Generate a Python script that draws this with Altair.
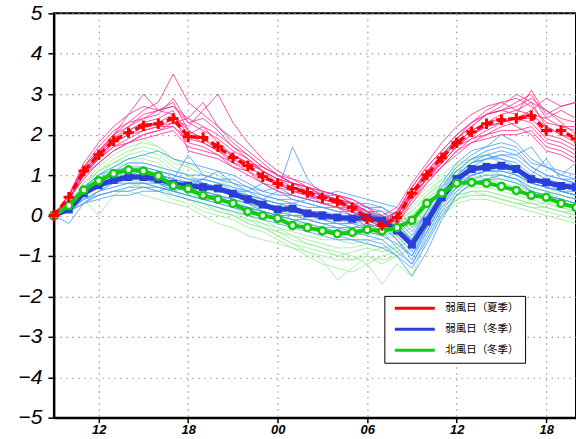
import altair as alt
import pandas as pd

# hours since 09:00 (0 .. 35 -> 09h day1 .. 20h day2)
hours = list(range(36))
x_tick_values = [3, 9, 15, 21, 27, 33]
x_tick_labels = ["12", "18", "00", "06", "12", "18"]
y_tick_values = [-5, -4, -3, -2, -1, 0, 1, 2, 3, 4, 5]

legend_labels = ["弱風日（夏季）", "弱風日（冬季）", "北風日（冬季）"]

# mean curves
red_mean = [0, 0.45, 1.1, 1.5, 1.85, 2.05, 2.22, 2.27, 2.4, 1.95, 1.93, 1.7, 1.43, 1.23, 0.96, 0.79, 0.67, 0.57,
            0.44, 0.35, 0.2, -0.08, -0.25, -0.05, 0.55, 1.0, 1.43, 1.8, 2.07, 2.27, 2.37, 2.4, 2.47, 2.1, 2.1, 1.9]
blue_mean = [0, 0.15, 0.55, 0.75, 0.88, 0.95, 0.95, 0.9, 0.78, 0.74, 0.7, 0.67, 0.54, 0.4, 0.27, 0.15, 0.17, 0.05,
             0.0, -0.05, -0.08, -0.05, -0.12, -0.37, -0.72, -0.15, 0.45, 0.9, 1.15, 1.2, 1.23, 1.15, 0.9, 0.82, 0.73, 0.7]
green_mean = [0, 0.25, 0.63, 0.86, 1.04, 1.13, 1.1, 0.98, 0.74, 0.66, 0.5, 0.4, 0.3, 0.1, 0, -0.07, -0.25, -0.3,
              -0.38, -0.45, -0.42, -0.35, -0.38, -0.3, -0.12, 0.3, 0.55, 0.8, 0.82, 0.8, 0.72, 0.62, 0.5, 0.45, 0.3, 0.2]

# individual days: weak wind, summer
pink_1 = [0, 0.5, 1.2, 1.6, 2.0, 2.3, 2.6, 2.8, 3.5, 2.8, 2.5, 2.2, 1.8, 1.5, 1.2, 1.0, 0.8, 0.7, 0.6, 0.5, 0.3, 0.1, -0.1, 0.1, 0.7, 1.2, 1.6, 2.0, 2.3, 2.5, 2.6, 2.7, 2.9, 2.6, 2.4, 2.3]
pink_2 = [0, 0.4, 1.0, 1.5, 2.0, 2.5, 3.0, 2.6, 2.7, 2.3, 2.4, 2.1, 1.7, 1.4, 1.1, 0.9, 0.8, 0.7, 0.5, 0.4, 0.3, 0.0, -0.3, 0.0, 0.6, 1.1, 1.5, 1.9, 2.2, 2.5, 2.7, 3.0, 2.8, 2.6, 2.3, 2.0]
pink_3 = [0, 0.5, 1.1, 1.4, 1.7, 1.9, 2.1, 2.2, 2.4, 2.2, 2.6, 3.0, 2.3, 1.8, 1.4, 1.1, 0.9, 0.7, 0.5, 0.4, 0.2, 0.0, -0.2, 0.1, 0.5, 0.9, 1.3, 1.7, 2.0, 2.2, 2.3, 2.4, 2.6, 2.9, 2.7, 2.8]
pink_4 = [0, 0.4, 1.0, 1.4, 1.7, 1.8, 1.9, 2.0, 2.1, 1.7, 1.6, 1.5, 1.2, 1.0, 0.8, 0.6, 0.5, 0.4, 0.3, 0.2, 0.1, -0.2, -0.4, -0.1, 0.5, 0.9, 1.3, 1.7, 1.9, 2.0, 2.1, 2.1, 2.2, 1.8, 1.7, 1.5]
pink_5 = [0, 0.5, 1.2, 1.7, 2.1, 2.3, 2.4, 2.5, 2.9, 2.3, 2.1, 1.9, 1.6, 1.4, 1.1, 0.8, 0.6, 0.5, 0.3, 0.2, 0.0, -0.3, -0.5, -0.2, 0.4, 0.8, 1.2, 1.6, 1.9, 2.1, 2.3, 2.4, 2.3, 1.9, 1.8, 1.6]
pink_6 = [0, 0.4, 1.1, 1.5, 1.8, 2.0, 2.1, 2.2, 2.2, 1.8, 1.7, 1.5, 1.3, 1.1, 0.9, 0.8, 0.6, 0.5, 0.4, 0.3, 0.2, 0.0, -0.2, 0.0, 0.6, 1.0, 1.5, 1.9, 2.2, 2.5, 2.6, 2.5, 3.1, 2.5, 2.7, 2.8]
pink_7 = [0, 0.5, 1.1, 1.5, 1.9, 2.1, 2.3, 2.4, 2.6, 1.6, 1.5, 1.4, 1.2, 1.1, 0.8, 0.7, 0.6, 0.6, 0.5, 0.4, 0.3, 0.0, -0.2, 0.1, 0.6, 1.1, 1.5, 1.8, 2.1, 2.3, 2.4, 2.2, 2.0, 1.6, 1.5, 1.3]
pink_8 = [0, 0.4, 1.0, 1.4, 1.8, 2.0, 2.2, 2.3, 2.5, 2.0, 2.2, 1.8, 1.5, 1.3, 1.1, 0.9, 0.8, 0.7, 0.5, 0.4, 0.3, 0.1, -0.1, -0.1, 0.4, 0.9, 1.4, 1.8, 2.1, 2.3, 2.5, 2.6, 2.8, 2.2, 2.0, 1.8]
pink_9 = [0, 0.5, 1.3, 1.8, 2.2, 2.5, 2.7, 2.6, 2.5, 2.1, 1.9, 1.6, 1.5, 1.3, 1.2, 1.0, 0.9, 0.8, 0.6, 0.5, 0.4, 0.2, 0.0, 0.2, 0.8, 1.3, 1.8, 2.2, 2.5, 2.7, 2.8, 2.6, 2.5, 2.2, 2.0, 1.9]
pink_10 = [0, 0.4, 1.0, 1.3, 1.6, 1.8, 2.0, 2.1, 2.3, 2.4, 2.8, 2.2, 1.9, 1.6, 1.3, 1.0, 0.8, 0.6, 0.4, 0.3, 0.1, -0.1, -0.3, 0.0, 0.5, 0.9, 1.2, 1.5, 1.8, 2.0, 2.2, 2.3, 2.5, 2.4, 2.6, 2.4]
pink_11 = [0, 0.5, 1.1, 1.6, 2.0, 2.2, 2.4, 2.6, 2.8, 2.1, 1.9, 1.7, 1.5, 1.3, 1.1, 0.9, 0.7, 0.6, 0.5, 0.5, 0.4, 0.2, -0.1, 0.0, 0.6, 1.0, 1.4, 1.9, 2.3, 2.6, 2.8, 2.9, 2.7, 2.3, 2.2, 2.1]
pink_12 = [0, 0.4, 0.9, 1.3, 1.6, 1.8, 2.0, 2.1, 2.2, 1.9, 1.8, 1.6, 1.3, 1.2, 1.0, 0.8, 0.7, 0.5, 0.4, 0.3, 0.2, -0.1, -0.3, -0.2, 0.3, 0.8, 1.2, 1.6, 1.8, 1.9, 2.0, 2.0, 2.1, 1.7, 1.6, 1.4]
pink_13 = [0, 0.5, 1.2, 1.6, 1.9, 2.2, 2.5, 2.6, 2.7, 2.4, 2.2, 2.0, 1.7, 1.5, 1.2, 1.0, 0.8, 0.7, 0.6, 0.5, 0.3, 0.1, -0.1, 0.1, 0.7, 1.2, 1.6, 2.0, 2.3, 2.5, 2.6, 2.8, 3.0, 2.4, 2.2, 2.2]
pink_14 = [0, 0.4, 1.0, 1.5, 1.8, 2.1, 2.3, 2.2, 2.3, 2.0, 1.8, 1.6, 1.4, 1.2, 1.0, 0.8, 0.6, 0.5, 0.4, 0.3, 0.2, 0.0, -0.2, -0.1, 0.5, 1.0, 1.3, 1.7, 2.0, 2.2, 2.3, 2.4, 2.4, 2.0, 1.9, 1.7]

# individual days: weak wind, winter
blue_1 = [0, -0.2, 0.3, 0.6, 0.8, 0.9, 1.0, 1.0, 0.9, 0.8, 0.7, 0.6, 0.5, 0.4, 0.3, 0.2, 0.1, 0.0, -0.1, -0.2, -0.2, -0.3, -0.4, -0.8, -1.2, -0.5, 0.2, 0.7, 1.0, 1.1, 1.2, 1.1, 0.9, 0.8, 0.7, 0.6]
blue_2 = [0, 0.3, 0.7, 1.0, 1.2, 1.4, 1.5, 1.6, 1.4, 1.3, 1.2, 1.1, 1.0, 0.8, 0.6, 0.5, 0.5, 0.4, 0.3, 0.3, 0.3, 0.3, 0.2, 0.0, -0.4, 0.1, 0.8, 1.3, 1.6, 1.7, 1.8, 1.7, 1.3, 1.2, 1.1, 1.0]
blue_3 = [0, 0.1, 0.4, 0.5, 0.6, 0.7, 0.7, 0.6, 0.5, 0.4, 0.3, 0.2, 0.1, 0.0, -0.1, -0.2, -0.3, -0.4, -0.5, -0.6, -0.6, -0.7, -0.8, -1.0, -1.5, -0.9, -0.1, 0.5, 0.8, 0.9, 1.0, 0.9, 0.6, 0.5, 0.4, 0.3]
blue_4 = [0, 0.2, 0.6, 0.8, 0.9, 1.0, 1.1, 1.0, 0.9, 1.5, 1.0, 0.9, 0.8, 0.7, 0.5, 0.4, 0.3, 0.2, 0.2, 0.1, 0.0, 0.1, 0.0, -0.3, -0.6, 0.0, 0.6, 1.1, 1.4, 1.5, 1.4, 1.3, 1.0, 1.4, 0.9, 0.9]
blue_5 = [0, 0.2, 0.5, 0.7, 0.8, 0.9, 0.9, 0.8, 0.6, 0.7, 0.9, 0.8, 0.6, 0.5, 0.4, 0.6, 1.7, 0.9, 0.5, 0.4, 0.3, 0.2, 0.1, -0.2, -0.6, -0.1, 0.5, 1.0, 1.3, 1.4, 1.4, 1.2, 0.9, 0.8, 0.7, 0.7]
blue_6 = [0, 0.1, 0.5, 0.7, 0.8, 0.8, 0.8, 0.7, 0.6, 0.5, 0.4, 0.4, 0.3, 0.2, 0.0, -0.1, -0.2, -0.3, -0.3, -0.4, -0.5, -0.4, -0.5, -0.7, -1.0, -0.4, 0.3, 0.8, 1.1, 1.2, 1.3, 1.2, 0.9, 0.8, 0.6, 0.6]
blue_7 = [0, 0.2, 0.7, 0.9, 1.1, 1.2, 1.2, 1.1, 1.0, 0.9, 0.9, 0.8, 0.7, 0.6, 0.5, 0.4, 0.4, 0.3, 0.2, 0.2, 0.1, 0.2, 0.2, -0.1, -0.5, 0.1, 0.7, 1.2, 1.5, 1.7, 2.0, 1.8, 1.4, 1.2, 1.0, 1.3]
blue_8 = [0, 0.1, 0.3, 0.4, 0.5, 0.5, 0.6, 0.6, 0.7, 0.8, 0.6, 0.5, 0.3, 0.2, 0.1, 0.0, -0.1, -0.2, -0.3, -0.3, -0.4, -0.5, -0.6, -0.9, -1.2, -0.6, 0.1, 0.6, 0.9, 1.0, 1.0, 0.9, 0.7, 0.6, 0.5, 0.4]
blue_9 = [0, 0.2, 0.6, 0.9, 1.0, 1.1, 1.1, 1.0, 0.9, 0.8, 0.9, 1.1, 0.8, 0.6, 0.4, 0.3, 0.3, 0.4, 0.5, 0.6, 0.5, 0.4, 0.3, 0.2, -0.3, 0.0, 0.5, 0.9, 1.2, 1.4, 1.5, 1.5, 1.7, 1.2, 1.0, 0.9]
blue_10 = [0, 0.1, 0.5, 0.7, 0.9, 1.0, 1.0, 0.9, 0.8, 0.7, 0.6, 0.5, 0.4, 0.3, 0.1, 0.0, 0.0, -0.1, -0.2, -0.2, -0.3, -0.3, -0.2, -0.6, -1.0, -0.3, 0.4, 0.8, 1.0, 1.1, 1.1, 1.0, 0.8, 0.7, 0.6, 0.5]
blue_11 = [0, 0.2, 0.6, 0.8, 1.0, 1.1, 1.2, 1.1, 1.0, 0.9, 0.8, 0.7, 0.6, 0.5, 0.4, 0.3, 0.2, 0.1, 0.1, 0.0, 0.0, 0.0, -0.1, -0.4, -0.8, -0.2, 0.5, 1.0, 1.3, 1.4, 1.5, 1.4, 1.1, 0.9, 0.8, 0.8]
blue_12 = [0, 0.1, 0.4, 0.6, 0.7, 0.8, 0.8, 0.8, 0.7, 0.6, 0.5, 0.5, 0.4, 0.3, 0.2, 0.1, 0.0, 0.0, -0.1, -0.1, -0.2, -0.1, -0.2, -0.5, -0.9, -0.3, 0.4, 0.9, 1.2, 1.2, 1.2, 1.1, 0.8, 0.7, 0.6, 0.5]
blue_13 = [0, 0.3, 0.7, 1.0, 1.1, 1.3, 1.3, 1.2, 1.1, 1.0, 1.0, 0.9, 0.9, 0.7, 0.6, 0.7, 0.5, 0.4, 0.3, 0.2, 0.2, 0.1, 0.1, -0.2, -0.6, 0.1, 0.7, 1.1, 1.4, 1.6, 1.7, 1.6, 1.2, 1.0, 0.9, 0.8]
blue_14 = [0, 0.1, 0.3, 0.5, 0.6, 0.6, 0.7, 0.7, 0.6, 0.5, 0.4, 0.3, 0.2, 0.1, 0.0, -0.1, -0.2, -0.3, -0.4, -0.5, -0.6, -0.6, -0.7, -1.0, -1.3, -0.7, 0.0, 0.5, 0.8, 0.9, 0.9, 0.8, 0.6, 0.5, 0.4, 0.3]
blue_15 = [0, 0.2, 0.5, 0.7, 0.9, 1.0, 1.0, 1.0, 0.9, 0.8, 0.8, 0.7, 0.6, 0.6, 0.8, 0.6, 0.4, 0.3, 0.2, 0.1, 0.1, 0.0, 0.0, -0.3, -0.7, -0.1, 0.6, 1.0, 1.3, 1.5, 1.6, 1.5, 1.2, 1.0, 0.9, 0.8]
blue_16 = [0, 0.2, 0.6, 0.9, 1.0, 1.0, 0.9, 0.8, 0.7, 0.6, 0.5, 0.4, 0.3, 0.2, 0.1, 0.0, -0.1, -0.1, -0.2, -0.3, -0.3, -0.2, -0.3, -0.6, -1.1, -0.4, 0.3, 0.7, 1.0, 1.1, 1.1, 1.0, 0.8, 0.7, 0.6, 0.5]

# individual days: north wind, winter
green_1 = [0, 0.3, 0.8, 1.1, 1.4, 1.6, 1.7, 1.6, 1.3, 1.2, 1.0, 0.9, 0.7, 0.5, 0.4, 0.3, 0.2, 0.1, 0.0, -0.1, 0.0, 0.1, 0.0, 0.1, 0.3, 0.7, 1.0, 1.3, 1.4, 1.3, 1.2, 1.0, 0.9, 0.8, 0.7, 0.6]
green_2 = [0, 0.2, 0.5, 0.7, 0.9, 1.0, 1.0, 0.9, 0.7, 0.6, 0.4, 0.3, 0.2, 0.0, -0.2, -0.3, -0.5, -0.6, -0.7, -0.8, -0.8, -0.7, -0.8, -0.7, -0.5, 0.0, 0.3, 0.6, 0.7, 0.7, 0.6, 0.5, 0.4, 0.3, 0.2, 0.1]
green_3 = [0, 0.3, 0.7, 1.0, 1.3, 1.5, 1.9, 1.7, 1.4, 1.3, 1.1, 1.0, 0.8, 0.5, 0.3, 0.2, 0.0, -0.1, -0.2, -0.3, -0.3, -0.2, -0.3, -0.2, 0.0, 0.4, 0.8, 1.1, 1.3, 1.6, 1.2, 1.0, 0.8, 0.7, 0.5, 0.4]
green_4 = [0, 0.2, 0.4, 0.0, 0.5, 0.7, 0.8, 0.7, 0.5, 0.4, 0.2, 0.1, 0.0, -0.2, -0.3, -0.5, -0.7, -0.9, -1.1, -1.6, -1.3, -1.0, -1.1, -1.0, -0.8, -0.3, 0.1, 0.4, 0.5, 0.5, 0.4, 0.3, 0.2, 0.1, 0.0, -0.1]
green_5 = [0, 0.3, 0.7, 1.0, 1.2, 1.3, 1.3, 1.2, 0.9, 0.8, 0.6, 0.5, 0.4, 0.2, 0.1, 0.0, -0.2, -0.2, -0.3, -0.4, -0.3, -0.3, -0.4, -0.2, 0.0, 0.4, 0.7, 1.0, 1.0, 0.9, 0.8, 0.7, 0.6, 0.5, 0.4, 0.3]
green_6 = [0, 0.2, 0.5, 0.8, 0.9, 1.0, 0.9, 0.8, 0.5, 0.4, 0.3, 0.2, 0.1, -0.1, -0.2, -0.4, -0.6, -0.7, -0.8, -0.9, -1.0, -1.2, -1.7, -1.2, -1.5, -0.6, 0.0, 0.4, 0.6, 0.6, 0.5, 0.4, 0.3, 0.2, 0.1, 0.0]
green_7 = [0, 0.3, 0.6, 0.9, 1.1, 1.2, 1.1, 1.0, 0.8, 0.7, 0.5, 0.4, 0.3, 0.2, 0.2, 0.1, 0.0, 0.1, 0.0, -0.1, -0.1, 0.0, -0.1, 0.0, 0.2, 0.6, 0.9, 1.1, 1.1, 1.0, 0.9, 0.8, 0.7, 0.6, 0.5, 0.4]
green_8 = [0, 0.2, 0.4, 0.6, 0.7, 0.8, 0.7, 0.6, 0.4, 0.3, 0.1, 0.0, -0.1, -0.3, -0.4, -0.6, -0.8, -1.0, -1.2, -1.3, -1.4, -1.2, -1.0, -0.9, -0.7, -0.2, 0.2, 0.5, 0.6, 0.5, 0.4, 0.3, 0.2, 0.2, 0.1, 0.0]
green_9 = [0, 0.3, 0.8, 1.1, 1.3, 1.4, 1.4, 1.3, 1.0, 0.8, 0.7, 0.6, 0.5, 0.3, 0.2, 0.1, -0.1, -0.2, -0.3, -0.4, -0.4, -0.5, -0.4, -0.4, -0.2, 0.3, 0.6, 0.8, 0.9, 0.9, 0.8, 0.7, 0.6, 1.0, 0.5, 0.4]
green_10 = [0, 0.1, 0.3, 0.5, 0.6, 0.6, 0.5, 0.4, 0.3, 0.2, 0.0, -0.2, -0.3, -0.5, -0.6, -0.7, -0.8, -0.9, -1.0, -1.1, -1.1, -1.0, -1.2, -1.0, -0.8, -0.4, 0.0, 0.3, 0.4, 0.4, 0.3, 0.2, 0.1, 0.0, -0.1, -0.2]
green_11 = [0, 0.3, 0.7, 1.0, 1.2, 1.4, 1.5, 1.4, 1.1, 1.0, 0.8, 0.7, 0.6, 0.4, 0.3, 0.2, 0.0, -0.1, -0.1, -0.2, -0.2, -0.1, -0.2, -0.1, 0.1, 0.5, 0.8, 1.1, 1.2, 1.2, 1.0, 0.9, 0.8, 0.7, 0.6, 0.5]
green_12 = [0, 0.2, 0.6, 0.8, 1.0, 1.1, 1.1, 1.0, 0.7, 0.6, 0.4, 0.3, 0.2, 0.0, -0.1, -0.3, -0.4, -0.5, -0.6, -0.6, -0.7, -0.6, -0.6, -0.5, -0.3, 0.1, 0.4, 0.7, 0.8, 0.8, 0.7, 0.6, 0.5, 0.4, 0.3, 0.2]
green_13 = [0, 0.3, 0.7, 1.1, 1.3, 1.5, 1.6, 1.5, 1.2, 1.0, 0.8, 0.7, 0.5, 0.3, 0.1, 0.0, -0.1, -0.3, -0.4, -0.5, -0.5, -0.4, -0.5, -0.4, -0.2, 0.2, 0.6, 0.9, 1.1, 1.1, 1.0, 0.8, 0.7, 0.6, 0.4, 0.3]
green_14 = [0, 0.2, 0.4, 0.6, 0.8, 0.9, 0.8, 0.7, 0.6, 0.4, 0.3, 0.1, 0.0, -0.1, -0.3, -0.4, -0.5, -0.7, -0.8, -1.0, -1.1, -0.9, -0.8, -0.8, -0.6, -0.1, 0.2, 0.5, 0.6, 0.6, 0.5, 0.4, 0.3, 0.3, 0.2, 0.1]
green_15 = [0, 0.3, 0.8, 1.2, 1.5, 1.7, 1.8, 1.7, 1.4, 1.2, 1.0, 0.9, 0.6, 0.4, 0.3, 0.2, 0.1, 0.0, -0.1, -0.2, -0.2, -0.2, -0.3, -0.2, 0.1, 0.5, 0.9, 1.2, 1.4, 1.5, 1.3, 1.1, 0.9, 0.8, 0.6, 0.5]
green_16 = [0, 0.2, 0.5, 0.7, 0.8, 0.9, 0.9, 0.8, 0.6, 0.5, 0.3, 0.2, 0.0, -0.2, -0.3, -0.5, -0.7, -0.8, -0.9, -1.0, -0.9, -0.8, -0.9, -0.8, -0.6, -0.2, 0.1, 0.4, 0.5, 0.5, 0.4, 0.3, 0.3, 0.2, 0.1, 0.1]

pink_lines = [pink_1, pink_2, pink_3, pink_4, pink_5, pink_6, pink_7, pink_8, pink_9, pink_10, pink_11,
              pink_12, pink_13, pink_14]
blue_lines = [blue_1, blue_2, blue_3, blue_4, blue_5, blue_6, blue_7, blue_8, blue_9, blue_10, blue_11,
              blue_12, blue_13, blue_14, blue_15, blue_16]
green_lines = [green_1, green_2, green_3, green_4, green_5, green_6, green_7, green_8, green_9, green_10,
               green_11, green_12, green_13, green_14, green_15, green_16]


def thin_df(lines, prefix):
    rows = []
    for i, line in enumerate(lines):
        for h, v in zip(hours, line):
            rows.append({"id": f"{prefix}{i}", "h": h, "v": v})
    return pd.DataFrame(rows)


def mean_df(values, label):
    return pd.DataFrame({"h": hours, "v": values, "series": label})


pink_df = thin_df(pink_lines, "p")
blue_df = thin_df(blue_lines, "b")
green_df = thin_df(green_lines, "g")
red_m = mean_df(red_mean, legend_labels[0])
blue_m = mean_df(blue_mean, legend_labels[1])
green_m = mean_df(green_mean, legend_labels[2])

lbl_expr = "{" + ",".join(f"'{v}':'{l}'" for v, l in zip(x_tick_values, x_tick_labels)) + "}[datum.value]"

X = alt.X("h:Q", scale=alt.Scale(domain=[0, 35], nice=False, zero=False),
          axis=alt.Axis(values=x_tick_values, labelExpr=lbl_expr, title=None,
                        labelFont="Liberation Sans", labelFontStyle="italic", labelFontWeight="bold",
                        labelFontSize=13, labelColor="black", labelPadding=1,
                        tickColor="black", tickSize=5, tickWidth=1.5,
                        domainColor="black", domainWidth=2,
                        grid=True, gridColor="#999999", gridDash=[1.5, 4.5], gridWidth=1.2))
Y = alt.Y("v:Q", scale=alt.Scale(domain=[-5, 5], nice=False),
          axis=alt.Axis(values=y_tick_values, title=None,
                        labelExpr="datum.value < 0 ? '−' + format(abs(datum.value), 'd') : format(datum.value, 'd')",
                        labelFont="Liberation Sans", labelFontStyle="italic", labelFontSize=21,
                        labelColor="black", labelPadding=6,
                        tickColor="black", tickSize=6, tickWidth=1.5,
                        domainColor="black", domainWidth=2,
                        grid=True, gridColor="#999999", gridDash=[1.5, 4.5], gridWidth=1.2))

color_scale = alt.Scale(domain=legend_labels, range=["#ff0000", "#2a3fd8", "#11cc11"])
legend = alt.Legend(orient="none", legendX=331, legendY=283, title=None,
                    strokeColor="black", fillColor="white", padding=6, rowPadding=8,
                    symbolType="M-0.4,0L7.6,0", symbolSize=100, symbolStrokeWidth=3, symbolDash=[1, 0],
                    labelFont="Noto Sans CJK JP", labelFontSize=10.5, labelColor="black", labelOffset=42)
C = alt.Color("series:N", scale=color_scale, legend=legend)

thin_green = alt.Chart(green_df).mark_line(strokeWidth=0.8, color="#95ee95").encode(x=X, y=Y, detail="id:N")
thin_blue = alt.Chart(blue_df).mark_line(strokeWidth=0.8, color="#4499ff").encode(x=X, y=Y, detail="id:N")
thin_pink = alt.Chart(pink_df).mark_line(strokeWidth=0.8, color="#ff2a8a").encode(x=X, y=Y, detail="id:N")

blue_line = alt.Chart(blue_m).mark_line(strokeWidth=5).encode(x=X, y=Y, color=C)
blue_pts = alt.Chart(blue_m).mark_point(shape="square", filled=True, size=64, color="#2a3fd8", opacity=1).encode(x=X, y=Y)
green_line = alt.Chart(green_m).mark_line(strokeWidth=4).encode(x=X, y=Y, color=C)
green_pts = alt.Chart(green_m).mark_point(shape="circle", filled=True, fill="white", stroke="#11cc11",
                                          strokeWidth=2.5, size=50, opacity=1).encode(x=X, y=Y)
red_line = alt.Chart(red_m).mark_line(strokeWidth=3.5, strokeDash=[7, 4]).encode(x=X, y=Y, color=C)
red_pts = alt.Chart(red_m).mark_point(shape="M-1,0L1,0M0,-1L0,1", filled=False, size=110, color="#ff0000",
                                      strokeWidth=3, opacity=1).encode(x=X, y=Y)

chart = alt.layer(
    thin_green, thin_blue, thin_pink,
    blue_line, blue_pts, green_line, green_pts, red_line, red_pts
).properties(
    width=523, height=405,
    autosize=alt.AutoSizeParams(type="none"),
    padding={"left": 54, "top": 13, "right": 0, "bottom": 21},
    background="white",
).configure_view(stroke="black", strokeWidth=2)

chart.save("out.html", embed_options={"renderer": "svg", "actions": False})
